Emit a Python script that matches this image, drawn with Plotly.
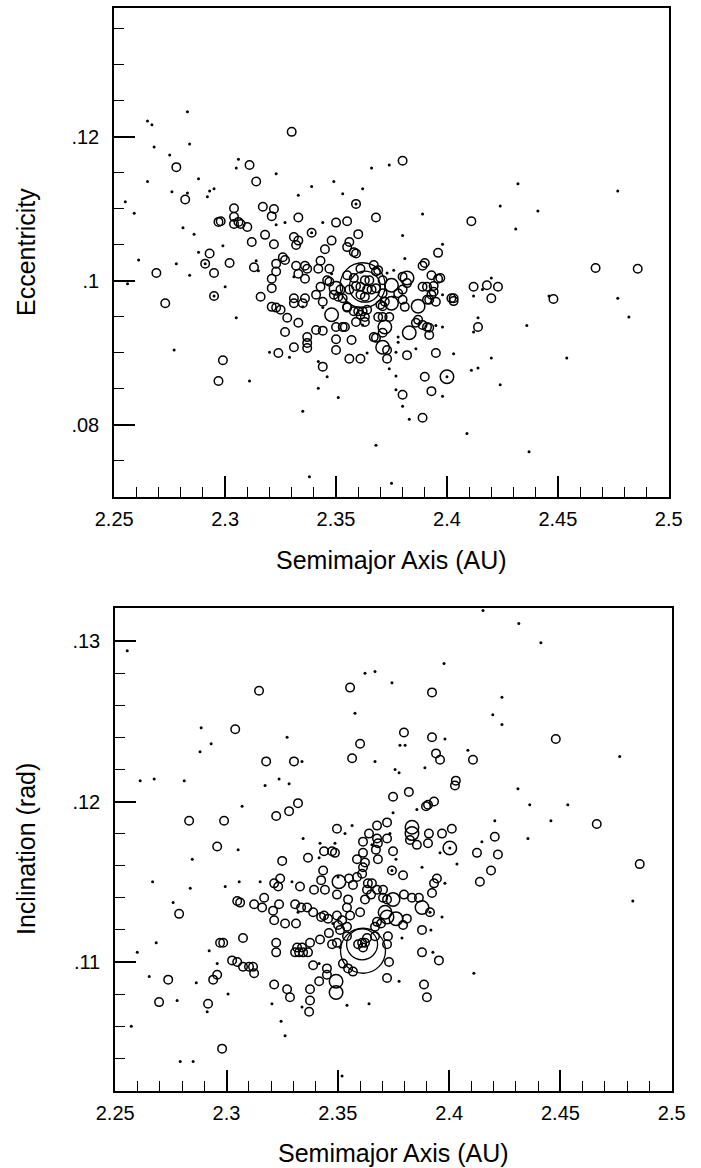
import plotly.graph_objects as go

# ---------------- DATA ----------------
# Top panel: (semimajor axis AU, eccentricity)
TOP_DOTS = [
    (2.283,0.1235),(2.265,0.1222),(2.267,0.1217),(2.268,0.1186),(2.284,0.1190),(2.275,0.1175),
    (2.306,0.1169),(2.305,0.1157),(2.265,0.1138),(2.288,0.1142),(2.276,0.1124),(2.283,0.1122),
    (2.293,0.1125),(2.295,0.1128),(2.292,0.1117),(2.255,0.1110),(2.259,0.1094),(2.281,0.1074),
    (2.286,0.1065),(2.299,0.1049),(2.288,0.1040),(2.261,0.1029),(2.278,0.1024),(2.284,0.1008),
    (2.300,0.0992),(2.256,0.0996),(2.305,0.0949),(2.277,0.0904),(2.311,0.0861),(2.323,0.1149),
    (2.366,0.1157),(2.374,0.1161),(2.432,0.1135),(2.477,0.1125),(2.424,0.1104),(2.441,0.1097),
    (2.431,0.1072),(2.477,0.0976),(2.446,0.0979),(2.436,0.0938),(2.454,0.0893),(2.482,0.0950),
    (2.437,0.0763),(2.424,0.0856),(2.339,0.1131),(2.349,0.1138),(2.362,0.1128),(2.333,0.1119),
    (2.353,0.1121),(2.389,0.1093),(2.344,0.1081),(2.327,0.1081),(2.323,0.1078),(2.380,0.1063),
    (2.398,0.1051),(2.381,0.1031),(2.314,0.1028),(2.315,0.1014),(2.331,0.1006),(2.348,0.1010),
    (2.373,0.1011),(2.376,0.1015),(2.420,0.1004),(2.416,0.0988),(2.398,0.0981),(2.412,0.0979),
    (2.335,0.0964),(2.344,0.0963),(2.362,0.0939),(2.376,0.0978),(2.395,0.0938),(2.398,0.0936),
    (2.378,0.0922),(2.378,0.0915),(2.386,0.0906),(2.377,0.0901),(2.414,0.0949),(2.412,0.0929),
    (2.374,0.0878),(2.377,0.0868),(2.403,0.0899),(2.411,0.0876),(2.414,0.0879),(2.420,0.0893),
    (2.329,0.0894),(2.320,0.0901),(2.342,0.0888),(2.364,0.0900),(2.346,0.0867),(2.342,0.0851),
    (2.351,0.0838),(2.335,0.0819),(2.338,0.0728),(2.377,0.0849),(2.380,0.0826),(2.383,0.0808),
    (2.398,0.0840),(2.409,0.0788),(2.368,0.0772),(2.375,0.0719),
    (2.291,0.1024),(2.295,0.0979),(2.339,0.1067),(2.400,0.0867),(2.359,0.1107),
]
TOP_SMALL = [
    (2.278,0.1158),(2.282,0.1113),(2.304,0.1101),(2.304,0.1089),(2.297,0.1082),(2.298,0.1083),
    (2.304,0.1079),(2.306,0.1082),(2.307,0.1079),(2.310,0.1075),(2.293,0.1038),(2.302,0.1025),
    (2.291,0.1024),(2.269,0.1011),(2.295,0.1011),(2.295,0.0979),(2.273,0.0969),(2.299,0.0890),
    (2.297,0.0861),(2.330,0.1207),(2.311,0.1161),(2.380,0.1167),(2.467,0.1018),(2.486,0.1017),
    (2.448,0.0975),
    (2.314,0.1138),(2.317,0.1103),(2.322,0.1100),(2.321,0.1090),(2.359,0.1107),(2.333,0.1088),
    (2.368,0.1088),(2.411,0.1083),(2.350,0.1081),(2.355,0.1083),(2.339,0.1067),(2.318,0.1064),
    (2.331,0.1061),(2.333,0.1056),(2.332,0.1050),(2.348,0.1056),(2.345,0.1044),(2.322,0.1051),
    (2.356,0.1054),(2.355,0.1047),(2.360,0.1065),(2.396,0.1039),(2.358,0.1040),(2.359,0.1038),
    (2.312,0.1054),(2.326,0.1033),(2.327,0.1029),(2.343,0.1028),(2.389,0.1021),(2.390,0.1025),
    (2.313,0.1019),(2.323,0.1024),(2.323,0.1013),(2.332,0.1021),(2.336,0.1021),(2.337,0.1017),
    (2.342,0.1017),(2.347,0.1017),(2.333,0.1010),(2.336,0.1003),(2.346,0.1001),(2.361,0.1017),
    (2.367,0.1022),(2.369,0.1015),(2.368,0.1013),(2.380,0.1006),(2.393,0.1008),(2.396,0.1003),
    (2.321,0.1003),(2.321,0.0990),(2.316,0.0978),(2.343,0.0992),(2.347,0.0999),(2.341,0.0981),
    (2.344,0.0971),(2.349,0.0981),(2.351,0.0978),(2.353,0.0976),(2.355,0.0964),(2.380,0.0988),
    (2.382,0.0997),(2.378,0.0983),(2.371,0.0983),(2.372,0.0971),(2.370,0.0967),(2.371,0.0965),
    (2.380,0.0974),(2.381,0.0964),(2.389,0.0992),(2.391,0.0992),(2.393,0.0981),(2.392,0.0974),
    (2.395,0.0971),(2.394,0.0985),(2.394,0.0993),(2.391,0.0974),(2.402,0.0976),(2.403,0.0972),
    (2.403,0.0976),(2.397,0.1004),(2.412,0.0992),(2.418,0.0994),(2.423,0.0992),(2.420,0.0976),
    (2.321,0.0964),(2.323,0.0963),(2.325,0.0960),(2.331,0.0976),(2.331,0.0969),(2.335,0.0969),
    (2.336,0.0976),(2.355,0.0963),(2.358,0.0958),(2.360,0.0958),(2.362,0.0958),(2.364,0.0960),
    (2.361,0.0953),(2.363,0.0950),(2.363,0.0943),(2.359,0.0943),(2.369,0.0950),(2.371,0.0950),
    (2.374,0.0950),(2.371,0.0928),(2.367,0.0922),(2.368,0.0921),(2.373,0.0904),(2.373,0.0892),
    (2.387,0.0946),(2.386,0.0942),(2.389,0.0939),(2.391,0.0936),(2.392,0.0935),(2.392,0.0925),
    (2.395,0.0900),(2.382,0.0897),(2.328,0.0949),(2.333,0.0942),(2.327,0.0929),(2.331,0.0908),
    (2.324,0.0900),(2.341,0.0932),(2.344,0.0931),(2.350,0.0936),(2.353,0.0936),(2.354,0.0936),
    (2.350,0.0919),(2.337,0.0922),(2.337,0.0914),(2.337,0.0907),(2.357,0.0918),(2.350,0.0904),
    (2.356,0.0892),(2.361,0.0892),(2.344,0.0881),(2.390,0.0867),(2.414,0.0936),(2.393,0.0847),
    (2.380,0.0842),(2.389,0.0810),
    (2.359,0.0993),(2.361,0.0992),(2.363,0.1001),(2.365,0.1001),(2.364,0.0988),(2.366,0.0988),
    (2.361,0.0981),(2.363,0.0978),(2.368,0.0990),(2.358,0.1004),(2.355,0.1008),(2.356,0.0988),
    (2.371,0.1001),(2.352,0.0988),
]
TOP_MEDIUM = [
    (2.350,0.0990),(2.375,0.0994),(2.382,0.1004),(2.375,0.0969),(2.387,0.0965),(2.348,0.0953),
    (2.372,0.0936),(2.371,0.0908),(2.383,0.0928),(2.400,0.0867),
]
TOP_LARGE = [(2.363,0.0992)]
TOP_HUGE = [(2.362,0.0994)]

# Bottom panel: (semimajor axis AU, inclination rad)
BOT_DOTS = [
    (2.2554,0.1294),(2.2886,0.1246),(2.2931,0.1236),(2.2881,0.1231),(2.3272,0.1240),(2.3339,0.1225),
    (2.2612,0.1213),(2.2675,0.1214),(2.2810,0.1213),(2.3173,0.1210),(2.3236,0.1214),(2.3281,0.1211),
    (2.3070,0.1197),(2.3052,0.1170),(2.2846,0.1164),(2.2668,0.1150),(2.2837,0.1146),(2.2994,0.1147),
    (2.3057,0.1150),(2.2760,0.1137),(2.2684,0.1112),(2.2922,0.1107),(2.2599,0.1106),(2.2958,0.1099),
    (2.2653,0.1091),(2.2864,0.1087),(2.3007,0.1080),(2.2778,0.1076),(2.2913,0.1069),(2.2572,0.1060),
    (2.2792,0.1038),(2.2850,0.1038),(2.3519,0.1029),(2.3263,0.1054),(2.4152,0.1319),(2.4313,0.1311),
    (2.4412,0.1299),(2.3977,0.1286),(2.3622,0.1280),(2.3667,0.1281),(2.3743,0.1274),(2.4237,0.1265),
    (2.3577,0.1255),(2.4196,0.1254),(2.4237,0.1248),(2.3981,0.1239),(2.3779,0.1235),(2.3802,0.1235),
    (2.4084,0.1232),(2.3667,0.1225),(2.4766,0.1228),(2.3757,0.1220),(2.3775,0.1218),(2.3891,0.1221),
    (2.4309,0.1208),(2.4362,0.1198),(2.4533,0.1198),(2.4457,0.1188),(2.4354,0.1177),(2.4825,0.1138),
    (2.3748,0.1193),(2.3855,0.1195),(2.3564,0.1185),(2.3532,0.1180),(2.3653,0.1173),(2.3734,0.1180),
    (2.3959,0.1168),(2.4205,0.1188),(2.4147,0.1175),(2.3344,0.1177),(2.3487,0.1174),(2.3420,0.1174),
    (2.3416,0.1165),(2.3761,0.1164),(2.3878,0.1159),(2.3981,0.1149),(2.4035,0.1161),(2.3151,0.1150),
    (2.3294,0.1150),(2.3501,0.1153),(2.3321,0.1131),(2.3478,0.1124),(2.3918,0.1120),(2.3788,0.1115),
    (2.3968,0.1128),(2.3510,0.1109),(2.3416,0.1099),(2.3927,0.1106),(2.3775,0.1088),(2.4111,0.1093),
    (2.3339,0.1072),(2.3204,0.1074),(2.3245,0.1063),(2.3541,0.1073),(2.3640,0.1074),
    (2.3743,0.1157),(2.3914,0.1131),(2.4003,0.1171),
]
BOT_SMALL = [
    (2.3146,0.1269),(2.3039,0.1245),(2.3178,0.1225),(2.3303,0.1225),(2.2832,0.1188),(2.2989,0.1188),
    (2.2958,0.1172),(2.3048,0.1138),(2.3061,0.1137),(2.2787,0.1130),(2.3074,0.1115),(2.2971,0.1112),
    (2.2985,0.1112),(2.3025,0.1101),(2.3048,0.1100),(2.3074,0.1097),(2.3101,0.1097),(2.2738,0.1089),
    (2.2940,0.1089),(2.2958,0.1092),(2.2697,0.1075),(2.2917,0.1074),(2.2980,0.1046),(2.3555,0.1271),
    (2.3923,0.1268),(2.3797,0.1243),(2.3923,0.1240),(2.4479,0.1239),(2.3600,0.1236),(2.3941,0.1230),
    (2.3959,0.1226),(2.4107,0.1226),(2.3564,0.1227),(2.4030,0.1213),(2.4026,0.1210),(2.4663,0.1186),
    (2.4856,0.1161),
    (2.3748,0.1203),(2.3819,0.1206),(2.3896,0.1197),(2.3905,0.1198),(2.3932,0.1200),(2.3321,0.1199),
    (2.3281,0.1194),(2.3223,0.1191),(2.3496,0.1183),(2.3676,0.1185),(2.3721,0.1187),(2.3640,0.1180),
    (2.3613,0.1175),(2.3676,0.1177),(2.3680,0.1174),(2.3671,0.1170),(2.3721,0.1177),(2.3909,0.1180),
    (2.3968,0.1180),(2.4012,0.1183),(2.3824,0.1176),(2.3855,0.1173),(2.3905,0.1174),(2.4205,0.1178),
    (2.4125,0.1168),(2.4219,0.1167),(2.4188,0.1157),(2.4138,0.1150),(2.3438,0.1169),(2.3474,0.1169),
    (2.3487,0.1168),(2.3366,0.1165),(2.3250,0.1163),(2.3586,0.1164),(2.3622,0.1162),(2.3613,0.1168),
    (2.3680,0.1164),(2.3748,0.1169),(2.3613,0.1159),(2.3609,0.1155),(2.3743,0.1157),(2.3793,0.1154),
    (2.3945,0.1152),(2.3932,0.1149),(2.3434,0.1157),(2.3425,0.1151),(2.3442,0.1145),(2.3393,0.1145),
    (2.3330,0.1147),(2.3241,0.1152),(2.3232,0.1147),(2.3214,0.1149),(2.3496,0.1142),(2.3550,0.1152),
    (2.3586,0.1153),(2.3568,0.1148),(2.3635,0.1149),(2.3653,0.1149),(2.3631,0.1145),(2.3649,0.1142),
    (2.3622,0.1139),(2.3676,0.1145),(2.3703,0.1145),(2.3703,0.1140),(2.3721,0.1139),(2.3797,0.1142),
    (2.3833,0.1140),(2.3864,0.1140),(2.3914,0.1131),(2.3923,0.1143),(2.3124,0.1136),(2.3160,0.1134),
    (2.3169,0.1140),(2.3209,0.1132),(2.3214,0.1126),(2.3236,0.1136),(2.3308,0.1136),(2.3335,0.1134),
    (2.3362,0.1134),(2.3263,0.1124),(2.3312,0.1124),(2.3425,0.1128),(2.3438,0.1129),(2.3456,0.1127),
    (2.3389,0.1131),(2.3541,0.1134),(2.3555,0.1129),(2.3600,0.1131),(2.3546,0.1139),(2.3496,0.1129),
    (2.3519,0.1126),(2.3501,0.1123),(2.3510,0.1120),(2.3541,0.1122),(2.3460,0.1118),(2.3541,0.1116),
    (2.3591,0.1111),(2.3609,0.1112),(2.3622,0.1112),(2.3631,0.1115),(2.3613,0.1109),(2.3667,0.1116),
    (2.3676,0.1125),(2.3694,0.1124),(2.3667,0.1122),(2.3810,0.1127),(2.3793,0.1123),(2.3725,0.1116),
    (2.3721,0.1111),(2.3878,0.1120),(2.3420,0.1114),(2.3375,0.1112),(2.3339,0.1109),(2.3317,0.1109),
    (2.3308,0.1106),(2.3326,0.1106),(2.3344,0.1106),(2.3366,0.1106),(2.3474,0.1111),(2.3496,0.1112),
    (2.3223,0.1112),(2.3223,0.1106),(2.3389,0.1098),(2.3451,0.1096),(2.3451,0.1092),(2.3523,0.1099),
    (2.3546,0.1096),(2.3568,0.1094),(2.3416,0.1088),(2.3375,0.1083),(2.3375,0.1076),(2.3371,0.1069),
    (2.3272,0.1083),(2.3285,0.1078),(2.3214,0.1086),(2.3730,0.1100),(2.3721,0.1090),(2.3878,0.1106),
    (2.3954,0.1101),(2.3887,0.1086),(2.3900,0.1078),(2.3119,0.1097),(2.3124,0.1093),
]
BOT_MEDIUM = [
    (2.3833,0.1184),(2.3833,0.1180),(2.4003,0.1171),(2.3505,0.1150),(2.3748,0.1139),(2.3878,0.1134),
    (2.3721,0.1128),(2.3712,0.1131),(2.3761,0.1127),(2.3492,0.1088),(2.3492,0.1081),
]
BOT_LARGE = [(2.3609,0.1111)]
BOT_HUGE = [(2.3613,0.1107)]

X_TICKS = [2.25, 2.3, 2.35, 2.4, 2.45, 2.5]
X_TICKTEXT = ["2.25", "2.3", "2.35", "2.4", "2.45", "2.5"]
TOP_Y_TICKS = [0.08, 0.1, 0.12]
TOP_Y_TICKTEXT = [".08", ".1", ".12"]
BOT_Y_TICKS = [0.11, 0.12, 0.13]
BOT_Y_TICKTEXT = [".11", ".12", ".13"]

X_TITLE = "Semimajor Axis (AU)"
TOP_Y_TITLE = "Eccentricity"
BOT_Y_TITLE = "Inclination (rad)"

# ---------------- FIGURE ----------------
FONT = "Liberation Sans, Arial, Helvetica, sans-serif"
W, H = 701, 1168

fig = go.Figure()

def add_group(points, xa, ya, kind):
    xs = [p[0] for p in points]
    ys = [p[1] for p in points]
    if kind == "dot":
        marker = dict(symbol="circle", size=3, color="black", line=dict(width=0))
    else:
        size = {"small": 8.5, "medium": 13.5, "large": 31, "huge": 45}[kind]
        lw = 1.5 if kind in ("small", "medium") else 1.3
        marker = dict(symbol="circle-open", size=size, color="black",
                      line=dict(width=lw, color="black"))
    fig.add_trace(go.Scatter(x=xs, y=ys, mode="markers", marker=marker,
                             xaxis=xa, yaxis=ya, showlegend=False, hoverinfo="x+y"))

for pts, kind in [(TOP_DOTS, "dot"), (TOP_SMALL, "small"), (TOP_MEDIUM, "medium"),
                  (TOP_LARGE, "large"), (TOP_HUGE, "huge")]:
    add_group(pts, "x", "y", kind)
for pts, kind in [(BOT_DOTS, "dot"), (BOT_SMALL, "small"), (BOT_MEDIUM, "medium"),
                  (BOT_LARGE, "large"), (BOT_HUGE, "huge")]:
    add_group(pts, "x2", "y2", kind)

def px_x(p):
    return p / W

def px_y(p):
    return 1 - p / H

common_axis = dict(
    showline=True, linecolor="black", linewidth=1.5, mirror=True,
    showgrid=False, zeroline=False, automargin=False,
    ticks="inside", ticklen=21, tickwidth=1.5, tickcolor="black",
    tickfont=dict(family=FONT, size=20, color="black"),
)

x_minor = dict(ticks="inside", ticklen=10, tickwidth=1.2, tickcolor="black",
               tickmode="linear", tick0=2.25, dtick=0.01, showgrid=False)

fig.update_layout(
    width=W, height=H,
    margin=dict(l=0, r=0, t=0, b=0, autoexpand=False),
    paper_bgcolor="white", plot_bgcolor="white",
    font=dict(family=FONT, color="black"),
    xaxis=dict(common_axis, domain=[px_x(114), px_x(669)], range=[2.2499, 2.5001],
               tickmode="array", tickvals=X_TICKS, ticktext=X_TICKTEXT,
               ticklabelstandoff=3, minor=x_minor, anchor="y"),
    yaxis=dict(common_axis, domain=[px_y(497), px_y(8)], range=[0.07, 0.1379],
               tickmode="array", tickvals=TOP_Y_TICKS, ticktext=TOP_Y_TICKTEXT,
               ticklabelstandoff=9, anchor="x",
               minor=dict(ticks="inside", ticklen=10, tickwidth=1.2, tickcolor="black",
                          tickmode="linear", tick0=0.07, dtick=0.005, showgrid=False)),
    xaxis2=dict(common_axis, domain=[px_x(115), px_x(672)], range=[2.2499, 2.5001],
                tickmode="array", tickvals=X_TICKS, ticktext=X_TICKTEXT,
                ticklabelstandoff=3, minor=x_minor, anchor="y2"),
    yaxis2=dict(common_axis, domain=[px_y(1091), px_y(608)], range=[0.10196, 0.13206],
                tickmode="array", tickvals=BOT_Y_TICKS, ticktext=BOT_Y_TICKTEXT,
                ticklabelstandoff=9, anchor="x2",
                minor=dict(ticks="inside", ticklen=10, tickwidth=1.2, tickcolor="black",
                           tickmode="linear", tick0=0.10, dtick=0.002, showgrid=False)),
    annotations=[
        dict(text=X_TITLE, xref="paper", yref="paper", x=px_x(391.5), y=px_y(560),
             xanchor="center", yanchor="middle", showarrow=False,
             font=dict(family=FONT, size=25, color="black")),
        dict(text=X_TITLE, xref="paper", yref="paper", x=px_x(393.5), y=px_y(1153),
             xanchor="center", yanchor="middle", showarrow=False,
             font=dict(family=FONT, size=25, color="black")),
        dict(text=TOP_Y_TITLE, xref="paper", yref="paper", x=px_x(26), y=px_y(252),
             xanchor="center", yanchor="middle", showarrow=False, textangle=-90,
             font=dict(family=FONT, size=25, color="black")),
        dict(text=BOT_Y_TITLE, xref="paper", yref="paper", x=px_x(26), y=px_y(849),
             xanchor="center", yanchor="middle", showarrow=False, textangle=-90,
             font=dict(family=FONT, size=25, color="black")),
    ],
)

fig.write_html("out.html")
